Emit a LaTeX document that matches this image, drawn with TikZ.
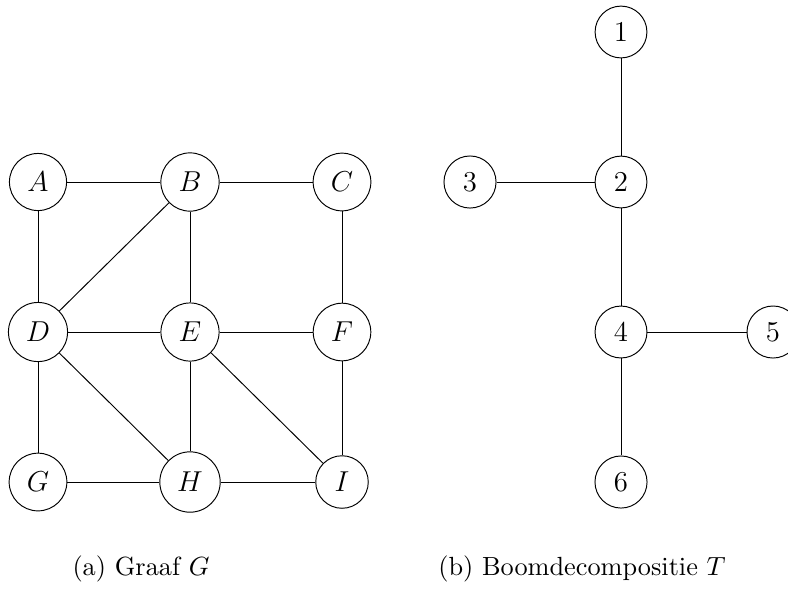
\documentclass[tikz,border=0pt]{standalone}
\begin{document}
\begin{tikzpicture}[x=0.4167pt, y=-0.4167pt,
  vertex/.style={draw, circle, inner sep=4.15pt, font=\large},
  edge/.style={draw, line width=0.4pt},
  caption/.style={anchor=base, font=\fontsize{10.95}{13}\selectfont}]
\useasboundingbox (0,0) rectangle (788,608);

% graph G
\node[vertex] (A) at (38,182) {$A$};
\node[vertex] (B) at (190,182) {$B$};
\node[vertex] (C) at (342,182) {$C$};
\node[vertex] (D) at (38,332) {$D$};
\node[vertex] (E) at (190,332) {$E$};
\node[vertex] (F) at (342,332) {$F$};
\node[vertex] (G) at (38,482) {$G$};
\node[vertex] (H) at (190,482) {$H$};
\node[vertex] (I) at (342,482) {$I$};
\foreach \u/\v in {A/B,B/C,A/D,B/D,B/E,C/F,D/E,E/F,D/G,D/H,E/H,E/I,F/I,G/H,H/I}
  \draw[edge] (\u) -- (\v);

% tree decomposition T
\node[vertex] (t1) at (621,32) {1};
\node[vertex] (t3) at (470,182) {3};
\node[vertex] (t2) at (621,182) {2};
\node[vertex] (t4) at (621,332) {4};
\node[vertex] (t5) at (773,332) {5};
\node[vertex] (t6) at (621,482) {6};
\foreach \u/\v in {t1/t2,t3/t2,t2/t4,t4/t5,t4/t6}
  \draw[edge] (\u) -- (\v);

% captions
\node[caption] (capa) at (141,575) {(a) Graaf $G$};
\node[caption] (capb) at (582,575) {(b) Boomdecompositie $T$};
\end{tikzpicture}
\end{document}
